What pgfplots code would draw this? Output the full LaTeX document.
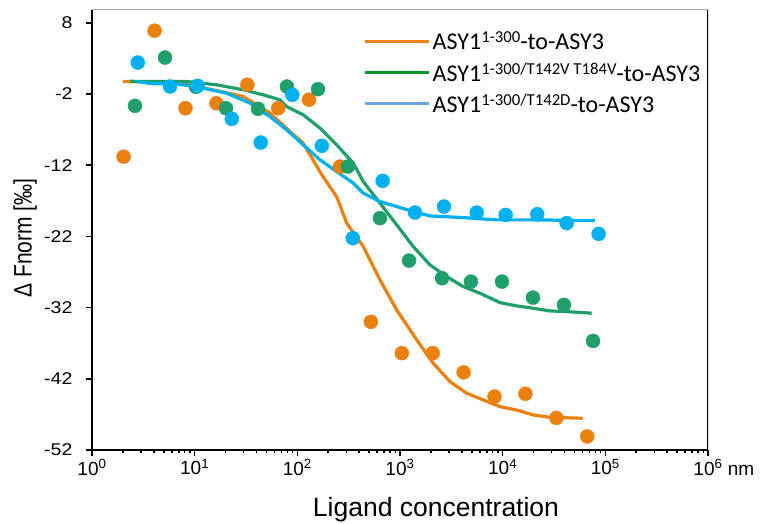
\documentclass[border=0pt]{standalone}
\usepackage{fontspec}
\setmainfont{Liberation Sans}
\newfontfamily\legfont{Carlito}
\usepackage{graphicx}
\usepackage{pgfplots}
\pgfplotsset{compat=1.18}
\definecolor{cOr}{RGB}{236,128,14}
\definecolor{cGr}{RGB}{31,160,106}
\definecolor{cBl}{RGB}{0,176,240}
\definecolor{lOr}{RGB}{240,130,20}
\definecolor{lGr}{RGB}{0,150,40}
\definecolor{lBl}{RGB}{110,165,222}
\newcommand\tp[1]{10\textsuperscript{#1}}
\newcommand\yt[1]{\scalebox{1.15}[1]{#1}}
\newcommand\sps[1]{\raisebox{0.62ex}{\fontsize{16.7}{17}\selectfont #1}}
\newcommand\lf{\legfont\fontsize{24}{28}\selectfont}
\begin{document}
\begin{tikzpicture}
\useasboundingbox (-92pt,-74pt) rectangle (668pt,450pt);
\begin{axis}[
 scale only axis, width=616pt, height=440pt,
 xmode=log, xmin=1, xmax=1e6, ymin=-52, ymax=9.8,
 axis x line*=bottom, axis y line*=left,
 axis line style={line width=2pt, -},
 tick align=outside,
 major tick length=6pt, minor tick length=3.5pt,
 every tick/.style={black, line width=1.5pt},
 xtick={1,10,100,1000,10000,100000,1000000},
 xticklabels={\tp{0},\tp{1},\tp{2},\tp{3},\tp{4},\tp{5},\tp{6}\rlap{ nm}},
 minor xtick={2,3,4,5,6,7,8,9,20,30,40,50,60,70,80,90,200,300,400,500,600,700,800,900,2000,3000,4000,5000,6000,7000,8000,9000,20000,30000,40000,50000,60000,70000,80000,90000,200000,300000,400000,500000,600000,700000,800000,900000},
 ytick={-52,-42,-32,-22,-12,-2,8},
 yticklabels={\yt{-52},\yt{-42},\yt{-32},\yt{-22},\yt{-12},\yt{-2},\yt{8}},
 xticklabel style={font=\fontsize{19}{19}\selectfont},
 yticklabel style={font=\fontsize{17}{17}\selectfont, xshift=-10pt},
 xlabel={Ligand concentration},
 xlabel style={font=\fontsize{26.5}{26.5}\selectfont, at={(axis description cs:0.5,0)}, anchor=center, xshift=36pt, yshift=-60pt},
 ylabel={\scalebox{1}[1.2]{Δ Fnorm [‰]}},
 ylabel style={font=\fontsize{21}{21}\selectfont, at={(axis description cs:0,0.5)}, anchor=center, yshift=67pt, xshift=-8pt},
 legend style={draw=none, fill=none, at={(0.44,0.955)}, anchor=north west, inner sep=0pt, row sep=7pt,
   nodes={inner sep=2pt}},
 legend cell align=left,
 legend image code/.code={\draw[#1] (0pt,0pt) -- (52pt,0pt); \path (0pt,0pt) -- (64pt,0pt);},
]
\addlegendimage{lOr, line width=3.5pt}\addlegendentry{\lf ASY1\sps{1-300}-to-ASY3}
\addlegendimage{lGr, line width=3.5pt}\addlegendentry{\lf ASY1\sps{1-300/T142V T184V}-to-ASY3}
\addlegendimage{lBl, line width=3.5pt}\addlegendentry{\lf ASY1\sps{1-300/T142D}-to-ASY3}

% fitted curves
\addplot[forget plot, cOr, line width=3.2pt] coordinates {
(2.00,-0.25) (6.68,-0.39) (14.1,-1.32) (29.8,-2.36) (54.2,-4.69) (84.7,-7.27) (113.5,-8.86)
(141.9,-11.25) (177.8,-13.60) (241.5,-16.41) (302.7,-20.14) (438.5,-23.43) (638.3,-28.11)
(929,-32.33) (1455,-36.54) (2109,-39.82) (3069,-42.40) (4467,-44.03) (6471,-44.97)
(9419,-45.91) (13680,-46.38) (19860,-47.08) (28840,-47.41) (60120,-47.54)};
\addplot[forget plot, cGr, line width=3.2pt] coordinates {
(2.34,-0.22) (8.36,-0.25) (16.4,-0.71) (29.8,-1.41) (46.7,-2.12) (67.8,-2.82) (78.7,-3.76)
(114.3,-4.93) (166.3,-6.80) (241.5,-9.14) (350.8,-11.71) (438.5,-14.30) (638.3,-17.33)
(929,-20.38) (1346,-23.43) (1959,-26.00) (2851,-27.65) (4130,-29.05) (6012,-29.98)
(9419,-31.30) (13680,-31.76) (19860,-32.09) (28840,-32.47) (42070,-32.56) (73620,-32.79)};
\addplot[forget plot, cBl, line width=3.2pt] coordinates {
(2.72,-0.25) (3.95,-0.57) (6.68,-0.57) (12.1,-1.18) (20.5,-1.88) (34.6,-3.28) (54.2,-5.17)
(78.7,-7.03) (114.3,-9.14) (166.3,-11.25) (241.5,-12.89) (350.8,-14.52) (438.5,-15.93)
(638.3,-17.11) (929,-17.81) (1346,-18.51) (1959,-19.12) (4130,-19.36) (8750,-19.68)
(19860,-19.68) (79250,-19.78)};

% data points
\addplot[forget plot, only marks, mark=*, mark size=7pt, cOr, mark options={draw=none, fill=cOr}] coordinates {
(2.03,-10.8) (4.07,6.9) (8.14,-4.0) (16.3,-3.3) (32.6,-0.7) (65.1,-4.0) (130,-2.8) (260,-12.2)
(521,-34.0) (1042,-38.4) (2083,-38.4) (4167,-41.1) (8333,-44.5) (16667,-44.1) (33333,-47.5) (66667,-50.1)};
\addplot[forget plot, only marks, mark=*, mark size=7pt, cGr, mark options={draw=none, fill=cGr}] coordinates {
(2.62,-3.66) (5.14,3.12) (10.3,-1.0) (20.2,-3.99) (41.4,-4.08) (79.3,-0.95) (159,-1.32) (311,-12.19)
(638,-19.44) (1225,-25.40) (2565,-27.87) (4909,-28.35) (9840,-28.35) (19720,-30.60) (39540,-31.62) (75860,-36.68)};
\addplot[forget plot, only marks, mark=*, mark size=7pt, cBl, mark options={draw=none, fill=cBl}] coordinates {
(2.79,2.42) (5.75,-0.95) (10.7,-0.85) (23.0,-5.49) (44.0,-8.82) (89.3,-2.12) (173,-9.28) (347,-22.25)
(678,-14.2) (1400,-18.65) (2679,-17.81) (5585,-18.65) (10690,-18.98) (21730,-18.88) (41980,-20.14) (86100,-21.65)};

\draw[black, line width=1.5pt] (rel axis cs:1,0) -- (rel axis cs:1,1);
\draw[black!35, line width=1pt] (rel axis cs:0,1) -- (rel axis cs:1,1);
\end{axis}
\end{tikzpicture}
\end{document}
